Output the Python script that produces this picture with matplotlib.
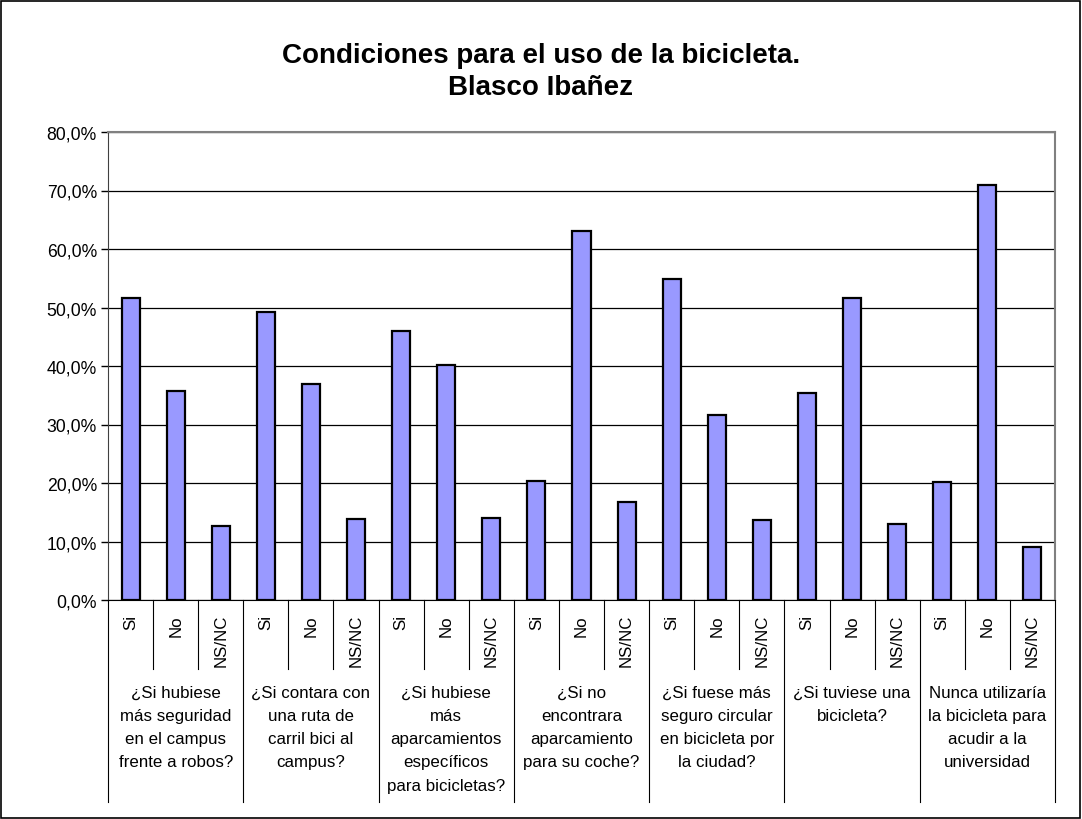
import numpy as np
import matplotlib
matplotlib.use('Agg')
import matplotlib.pyplot as plt
from matplotlib.patches import Rectangle
from matplotlib.ticker import FuncFormatter

plt.rcParams['font.family'] = ['Liberation Sans', 'DejaVu Sans']

# answers inside each question group
answers = ['Si', 'No', 'NS/NC']

questions = [
    '¿Si hubiese\nmás seguridad\nen el campus\nfrente a robos?',
    '¿Si contara con\nuna ruta de\ncarril bici al\ncampus?',
    '¿Si hubiese\nmás\naparcamientos\nespecíficos\npara bicicletas?',
    '¿Si no\nencontrara\naparcamiento\npara su coche?',
    '¿Si fuese más\nseguro circular\nen bicicleta por\nla ciudad?',
    '¿Si tuviese una\nbicicleta?',
    'Nunca utilizaría\nla bicicleta para\nacudir a la\nuniversidad',
]

# percentages per question: Si, No, NS/NC
si_vals = [51.7, 49.3, 46.0, 20.3, 54.9, 35.4, 20.2]
no_vals = [35.8, 36.9, 40.1, 63.0, 31.6, 51.7, 71.0]
nsnc_vals = [12.6, 13.9, 14.0, 16.8, 13.6, 13.0, 9.0]

title = 'Condiciones para el uso de la bicicleta.\nBlasco Ibañez'

values = []
for s, n, x in zip(si_vals, no_vals, nsnc_vals):
    values += [s, n, x]
n_groups = len(questions)
n_sub = len(answers)
pos = np.arange(len(values))

W, H = 1082, 820
fig = plt.figure(figsize=(W / 100, H / 100), dpi=100)
left, right, top, bottom = 108, 1055, 133, 601
ax = fig.add_axes([left / W, 1 - bottom / H, (right - left) / W, (bottom - top) / H])

ax.bar(pos, values, width=0.4, color='#9999FF', edgecolor='black', linewidth=1.6, zorder=3)

ax.set_xlim(-0.5, len(values) - 0.5)
ax.set_ylim(0, 80)
ax.set_yticks(np.arange(0, 81, 10))
ax.yaxis.set_major_formatter(FuncFormatter(lambda v, p: f'{v:.1f}%'.replace('.', ',')))
ax.tick_params(axis='y', direction='out', length=5, width=1, labelsize=12.7, pad=3)
ax.set_xticks([])
ax.grid(axis='y', color='black', linewidth=0.9, zorder=0)

for side in ['top', 'right']:
    ax.spines[side].set_color('#808080')
    ax.spines[side].set_linewidth(1.5)
ax.spines['left'].set_color('#404040')
ax.spines['bottom'].set_color('black')

# category table below the axis
axh = bottom - top
trans = ax.get_xaxis_transform()
short_y = -(670 - bottom) / axh
long_y = -(803 - bottom) / axh
for i in range(len(values) + 1):
    xb = i - 0.5
    if i % n_sub == 0:
        ax.plot([xb, xb], [0, long_y], transform=trans, color='black', lw=0.8, clip_on=False)
    else:
        ax.plot([xb, xb], [0, short_y], transform=trans, color='black', lw=0.8, clip_on=False)

for i in range(len(values)):
    ax.text(i, -(615 - bottom) / axh, answers[i % n_sub], transform=trans, rotation=90,
            ha='center', va='top', fontsize=12.2)

for g, q in enumerate(questions):
    xc = g * n_sub + (n_sub - 1) / 2
    ax.text(xc, -(686 - bottom) / axh, q, transform=trans, ha='center', va='top',
            multialignment='center', fontsize=12.2, linespacing=1.68)

fig.text(0.5, 1 - 72 / H, title, ha='center', va='center', fontsize=20,
         fontweight='bold', linespacing=1.31)

fig.patches.append(Rectangle((0.001, 0.001), 0.997, 0.997, transform=fig.transFigure,
                             fill=False, edgecolor='black', linewidth=1.2))

fig.savefig('out.png', dpi=100)
